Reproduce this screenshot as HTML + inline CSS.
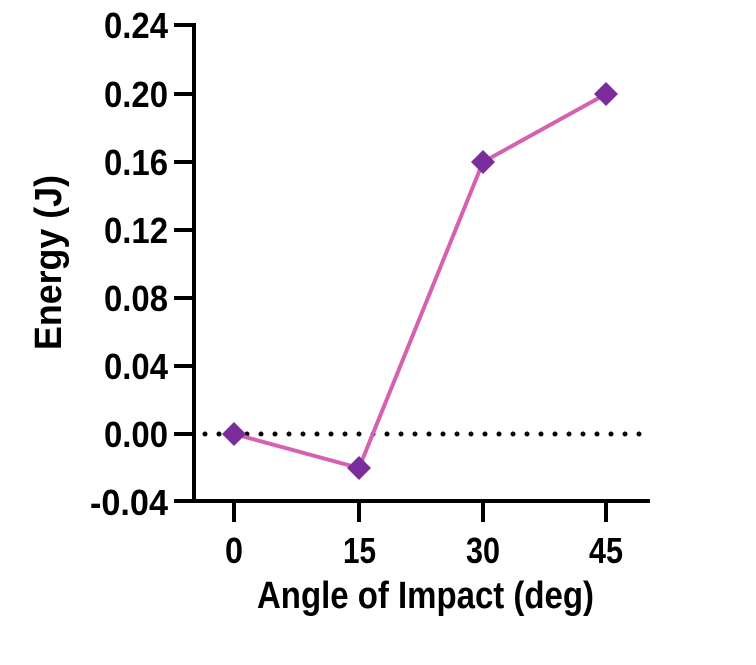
<!DOCTYPE html>
<html><head><style>
html,body{margin:0;padding:0;background:#fff;}
svg text{font-family:"Liberation Sans Narrow","Liberation Sans",sans-serif;font-weight:bold;fill:#000;}
</style></head><body>
<svg width="756" height="660" viewBox="0 0 756 660" xmlns="http://www.w3.org/2000/svg">
<g stroke="#000" stroke-width="4" fill="none">
<line x1="194" y1="23" x2="194" y2="503"/>
<line x1="192" y1="501" x2="650" y2="501"/>
<line x1="174" y1="25" x2="194" y2="25"/>
<line x1="174" y1="94" x2="194" y2="94"/>
<line x1="174" y1="162" x2="194" y2="162"/>
<line x1="174" y1="230" x2="194" y2="230"/>
<line x1="174" y1="298" x2="194" y2="298"/>
<line x1="174" y1="366" x2="194" y2="366"/>
<line x1="174" y1="434" x2="194" y2="434"/>
<line x1="174" y1="501" x2="194" y2="501"/>
<line x1="234" y1="501" x2="234" y2="522"/>
<line x1="359" y1="501" x2="359" y2="522"/>
<line x1="483" y1="501" x2="483" y2="522"/>
<line x1="606" y1="501" x2="606" y2="522"/>
</g>
<line x1="205" y1="434" x2="648" y2="434" stroke="#000" stroke-width="5" stroke-linecap="round" stroke-dasharray="0 14"/>
<polyline points="234,434 359,468 483,162 606,94" fill="none" stroke="#d462b0" stroke-width="4"/>
<g fill="#7b2d9b">
<polygon points="234,422 246,434 234,446 222,434"/>
<polygon points="359,456 371,468 359,480 347,468"/>
<polygon points="483,150 495,162 483,174 471,162"/>
<polygon points="606,82 618,94 606,106 594,94"/>
</g>
<g font-size="36" lengthAdjust="spacingAndGlyphs">
<text x="104" y="38" textLength="64" lengthAdjust="spacingAndGlyphs">0.24</text>
<text x="104" y="107" textLength="64" lengthAdjust="spacingAndGlyphs">0.20</text>
<text x="104" y="175" textLength="64" lengthAdjust="spacingAndGlyphs">0.16</text>
<text x="104" y="243" textLength="64" lengthAdjust="spacingAndGlyphs">0.12</text>
<text x="104" y="311" textLength="64" lengthAdjust="spacingAndGlyphs">0.08</text>
<text x="104" y="379" textLength="64" lengthAdjust="spacingAndGlyphs">0.04</text>
<text x="104" y="447" textLength="64" lengthAdjust="spacingAndGlyphs">0.00</text>
<text x="90" y="515" textLength="78" lengthAdjust="spacingAndGlyphs">-0.04</text>
</g>
<g font-size="36">
<text x="225" y="563" textLength="18" lengthAdjust="spacingAndGlyphs">0</text>
<text x="343" y="563" textLength="33" lengthAdjust="spacingAndGlyphs">15</text>
<text x="466" y="563" textLength="34" lengthAdjust="spacingAndGlyphs">30</text>
<text x="589" y="563" textLength="34" lengthAdjust="spacingAndGlyphs">45</text>
<text x="257" y="608" font-size="38" textLength="337" lengthAdjust="spacingAndGlyphs">Angle of Impact (deg)</text>
<text transform="translate(61,350) rotate(-90)" font-size="38" textLength="175" lengthAdjust="spacingAndGlyphs">Energy (J)</text>
</g>
</svg>
</body></html>
